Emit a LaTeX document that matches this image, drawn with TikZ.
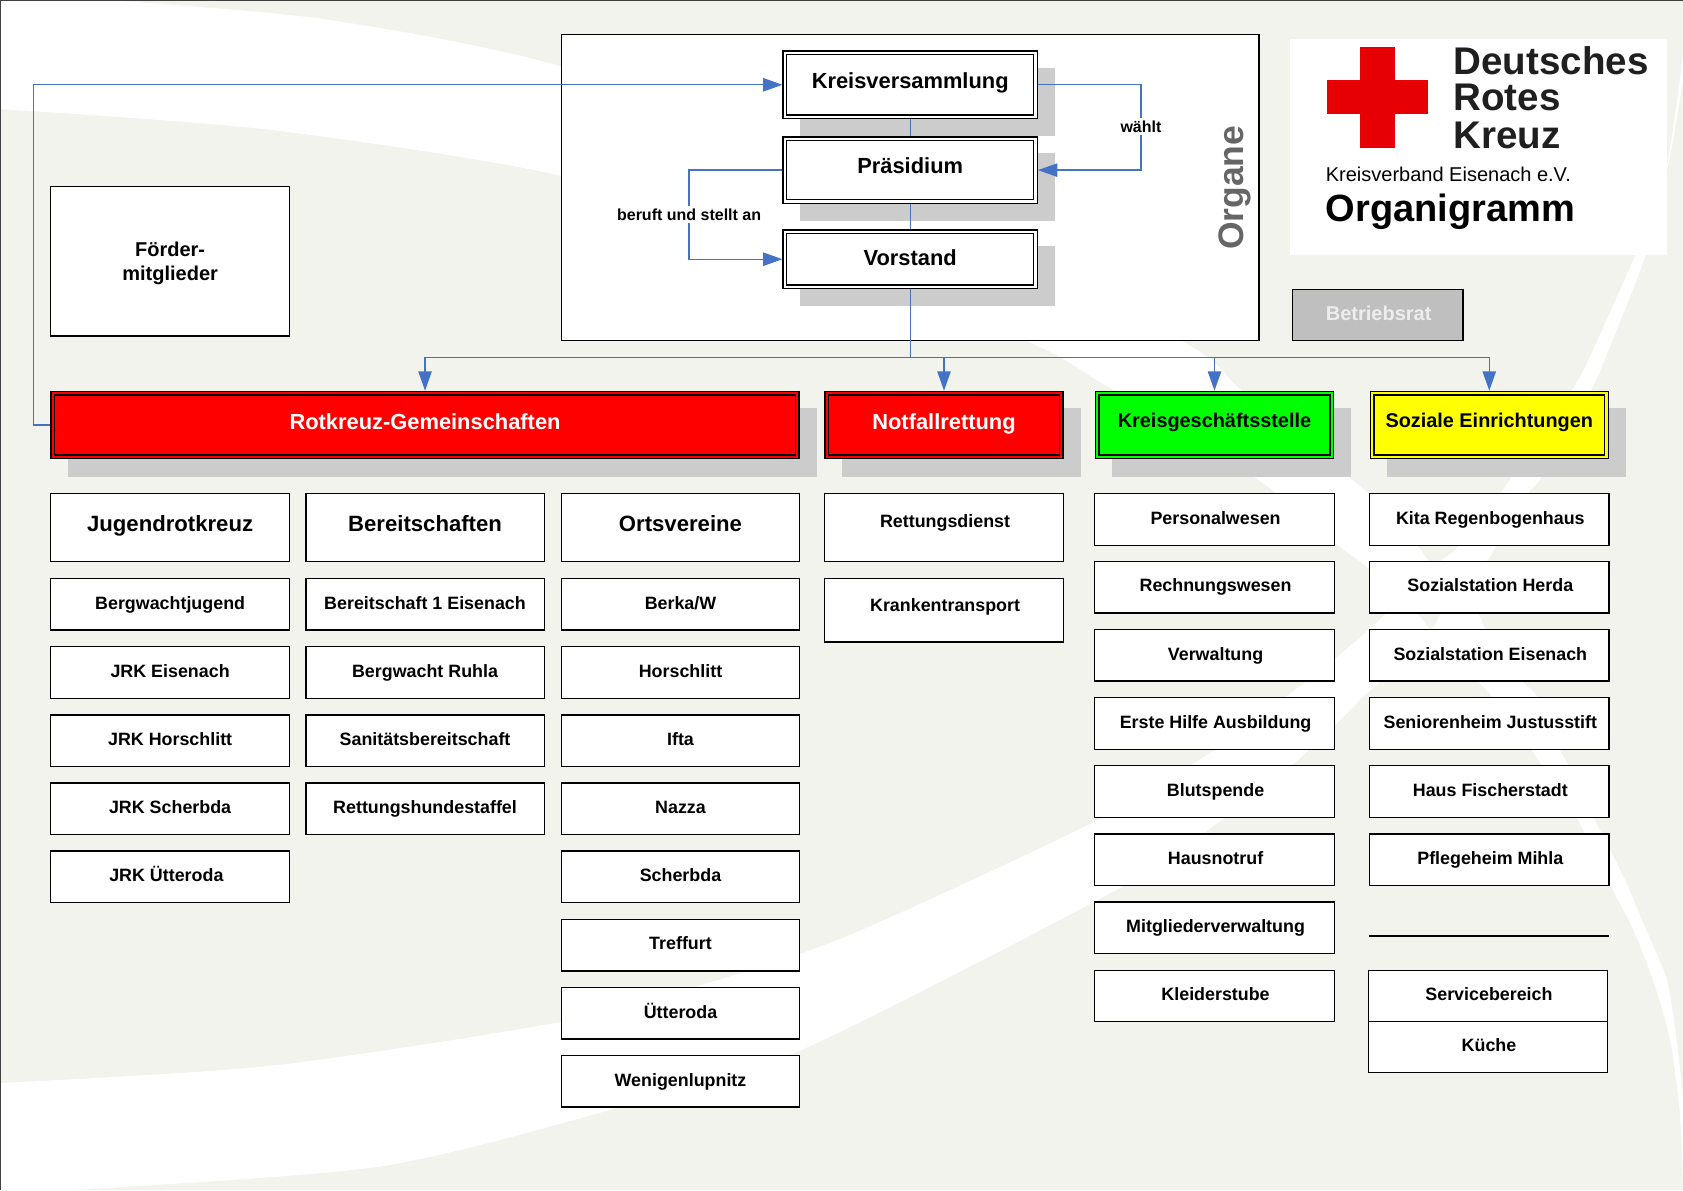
\documentclass[tikz,border=0pt]{standalone}
\usepackage{fontspec}
\setmainfont{Liberation Sans}
\usetikzlibrary{arrows.meta}
\definecolor{bgc}{HTML}{F2F3EC}
\definecolor{blu}{HTML}{4472C4}
\definecolor{shd}{HTML}{CCCCCC}
\definecolor{crs}{HTML}{E60005}
\definecolor{hdgreen}{HTML}{00FF00}
\definecolor{hdyellow}{HTML}{FFFF00}
\definecolor{hdred}{HTML}{FF0000}
\def\uu{0.80493}
\newcommand\fnt[1]{\fontsize{#1}{#1}\selectfont\bfseries}
\newcommand\bx[8]{%
 \pgfmathsetmacro\bw{((#5)-(#3))*\uu}\pgfmathsetmacro\bh{((#6)-(#4))*\uu}\pgfmathsetmacro\br{(((#4)+(#6))/2-(#7))*\uu}%
 \node[#1,minimum width=\bw pt,minimum height=\bh pt] (#2) at ({((#3)+(#5))/2},{((#4)+(#6))/2}) {\raisebox{\br pt}[0pt][0pt]{#8}};}
\newcommand\bxd[8]{%
 \pgfmathsetmacro\bw{((#5)-(#3)-4.6)*\uu}\pgfmathsetmacro\bh{((#6)-(#4)-4.6)*\uu}\pgfmathsetmacro\br{(((#4)+(#6))/2-(#7))*\uu}%
 \node[#1,minimum width=\bw pt,minimum height=\bh pt] (#2) at ({((#3)+(#5))/2},{((#4)+(#6))/2}) {\raisebox{\br pt}[0pt][0pt]{#8}};}
\newcommand\sm[5]{\bx{plainbox,font=\fnt{13.4}}{#1}{#2}{#4}{#3}{(#4)+48}{(#4)+28.5}{#5}}
\newcommand\smr[5]{\bx{plainbox,font=\fnt{13.4}}{#1}{#2}{#4}{#3}{(#4)+48}{(#4)+28.5}{\hspace{1.6pt}#5}}
\newcommand\shadowbox[4]{\fill[shd] (#1+16,#2+16) rectangle (#3+16,#4+16);}
\tikzset{
 x=0.80493pt,y=-0.80493pt,
 plainbox/.style={draw=black,fill=white,line width=1pt,inner sep=0pt,outer sep=0.5pt,text=black},
 dblbox/.style={draw=black,fill=#1,line width=1.05pt,double=#1,double distance=1.6pt,inner sep=0pt,outer sep=1.85pt,text=black},
 conn/.style={draw=blu,line width=1pt},
 arr/.style={conn,-{Triangle[length=14.5pt,width=10pt,fill=blu]}},
 lab/.style={fill=white,inner xsep=0.5pt,inner ysep=2pt,font=\fnt{12},text=black},
 logot/.style={anchor=base west,inner sep=0pt,text=black!88},
}
\begin{document}
\begin{tikzpicture}
\useasboundingbox (0,0) rectangle (1568,1108.7);
% background
\fill[bgc] (0,0) rectangle (1568,1108.7);
\fill[white,even odd rule]
 (0,0) -- plot[smooth,tension=.45] coordinates {(100,0)(303,18)(523,62)(800,165)(1100,317)(1156,363)(1258,445.6)(1276,461)(1320,508)(1331,522)(1376,571)(1384,586)(1419,635)(1432,649)(1453.5,699)(1461,713)(1485,762)(1514,820)(1534,867)(1553,913)(1562,969)(1568,1022)}
 -- (1568,1100) -- plot[smooth,tension=.45] coordinates {(1568,1100)(1565,1037)(1556,969)(1540,913)(1522,867)(1501,826)(1469,762)(1436.5,713)(1427,699)(1390,649)(1377,635)(1332,586)(1320,571)(1275,529.5)(1244,506)(1168,444)(1025,356)(957,318)(750,240)(523,164)(252,121)(0,101.6)} -- cycle
 plot[smooth,tension=.45] coordinates {(0,1009)(252,993)(523,952)(656,917)(792,871)(1023,764)(1128,701)(1201,647)(1244,613.4)(1276,586)(1292,571)(1342,523)(1360,508)(1398,459)(1408.5,444)(1464,364)(1480,335)(1523.5,238)(1549,174)(1563,90)(1568,50)}
 -- plot[smooth,tension=.45] coordinates {(1568,75)(1555,150)(1533,238)(1495,335)(1482,364)(1436.5,444)(1424,459)(1394.5,508)(1385,523)(1343,571)(1334,586)(1286,635)(1270,649)(1244,675.5)(1207,710)(1138,764)(1044,827)(745,979)(576,1032)(353,1087)(66,1108.7)} -- (0,1108.7) -- cycle;
\draw[black!75,line width=1pt] (0,1108.7) -- (0,0) -- (1568,0);
% Organe frame
\bx{plainbox}{org}{523}{32}{1173}{317}{175}{}
\node[anchor=base,rotate=90,inner sep=0pt,font=\fnt{26.6},text=black!60] (orgt) at (1158.5,175) {Organe};
% logo
\node[fill=white,inner sep=0pt,minimum width=282.5pt,minimum height=162.3pt] (logo) at (1377.5,137) {};
\fill[crs] (1267,43.5) rectangle (1299.5,138);
\fill[crs] (1236,75) rectangle (1330.6,106.5);
\node[logot,font=\fnt{28.9}] (l1) at (1354,69) {Deutsches};
\node[logot,font=\fnt{28.9}] (l2) at (1354,103) {Rotes};
\node[logot,font=\fnt{28.9}] (l3) at (1354,138) {Kreuz};
\node[logot,font=\fontsize{15}{15}\selectfont,text=black] (l4) at (1235,169) {Kreisverband Eisenach e.V.};
\node[logot,font=\fnt{28.5},text=black] (l5) at (1235,206.5) {Organigramm};
% Betriebsrat
\bx{plainbox,fill=black!25,text=white!93!black,font=\fnt{15}}{br}{1204}{269.5}{1363}{317.4}{299}{\hspace{1.6pt}Betriebsrat}
% Foerder
\bx{plainbox,font=\fontsize{15}{18}\selectfont\bfseries}{fm}{47}{174}{270}{313}{261.3}{\begin{tabular}[b]{@{}c@{}}Förder-\\mitglieder\end{tabular}}
% shadows
\shadowbox{729}{47}{967}{111}
\shadowbox{729}{127}{967}{190}
\shadowbox{729}{213.5}{967}{269.5}
\shadowbox{47}{364}{745}{428}
\shadowbox{768}{364}{991}{428}
\shadowbox{1020}{364}{1243}{428}
\shadowbox{1276}{364}{1499}{428}
% organs
\bxd{dblbox=white,font=\fnt{16.4}}{kv}{729}{47}{967}{111}{82.3}{Kreisversammlung}
\bxd{dblbox=white,font=\fnt{16.4}}{pr}{729}{127}{967}{190}{161.5}{Präsidium}
\bxd{dblbox=white,font=\fnt{16.4}}{vs}{729}{213.5}{967}{269.5}{247}{Vorstand}
% heads
\bxd{dblbox=hdred,text=white,font=\fnt{16.4}}{rk}{47}{364}{745}{428}{399.7}{Rotkreuz-Gemeinschaften}
\bxd{dblbox=hdred,text=white,font=\fnt{16.4}}{nf}{768}{364}{991}{428}{399.7}{Notfallrettung}
\bxd{dblbox=hdgreen,font=\fnt{14.9}}{kg}{1020}{364}{1243}{428}{398}{Kreisgeschäftsstelle}
\bxd{dblbox=hdyellow,font=\fnt{14.9}}{se}{1276}{364}{1499}{428}{398}{Soziale Einrichtungen}
% sub heads
\bx{plainbox,font=\fnt{16.6}}{h1}{47}{460}{270}{523}{494.8}{Jugendrotkreuz}
\bx{plainbox,font=\fnt{16.6}}{h2}{285}{460}{507}{523}{494.8}{Bereitschaften}
\bx{plainbox,font=\fnt{16.6}}{h3}{523}{460}{745}{523}{494.8}{Ortsvereine}
\bx{plainbox,font=\fnt{13.4}}{h4}{768}{460}{991}{523}{491.5}{\hspace{1.6pt}Rettungsdienst}
\bx{plainbox,font=\fnt{13.4}}{h5}{768}{539}{991}{598}{570}{\hspace{1.6pt}Krankentransport}
% col 1
\sm{a1}{47}{270}{539}{Bergwachtjugend}
\sm{a2}{47}{270}{602.5}{JRK Eisenach}
\sm{a3}{47}{270}{666}{JRK Horschlitt}
\sm{a4}{47}{270}{729.5}{JRK Scherbda}
\sm{a5}{47}{270}{793}{JRK Ütteroda\hspace{5.6pt}}
% col 2
\sm{b1}{285}{507}{539}{Bereitschaft 1 Eisenach}
\sm{b2}{285}{507}{602.5}{Bergwacht Ruhla}
\sm{b3}{285}{507}{666}{Sanitätsbereitschaft}
\sm{b4}{285}{507}{729.5}{Rettungshundestaffel}
% col 3
\sm{c1}{523}{745}{539}{Berka/W}
\sm{c2}{523}{745}{602.5}{Horschlitt}
\sm{c3}{523}{745}{666}{Ifta}
\sm{c4}{523}{745}{729.5}{Nazza}
\sm{c5}{523}{745}{793}{Scherbda}
\sm{c6}{523}{745}{856.5}{Treffurt}
\sm{c7}{523}{745}{920}{Ütteroda}
\sm{c8}{523}{745}{983.5}{Wenigenlupnitz}
% col 5
\smr{d1}{1020}{1243}{460}{Personalwesen}
\smr{d2}{1020}{1243}{523}{Rechnungswesen}
\smr{d3}{1020}{1243}{586.5}{Verwaltung}
\smr{d4}{1020}{1243}{650}{Erste Hilfe Ausbildung}
\smr{d5}{1020}{1243}{713.5}{Blutspende}
\smr{d6}{1020}{1243}{777}{Hausnotruf}
\smr{d7}{1020}{1243}{840.5}{Mitgliederverwaltung}
\smr{d8}{1020}{1243}{904}{Kleiderstube}
% col 6
\smr{e1}{1276}{1499}{460}{Kita Regenbogenhaus}
\smr{e2}{1276}{1499}{523}{Sozialstation Herda}
\smr{e3}{1276}{1499}{586.5}{Sozialstation Eisenach}
\smr{e4}{1276}{1499}{650}{Seniorenheim Justusstift}
\smr{e5}{1276}{1499}{713.5}{Haus Fischerstadt}
\smr{e6}{1276}{1499}{777}{Pflegeheim Mihla}
\coordinate (sl) at (1275,872);
\coordinate (sr) at (1499,872);
\draw[black,line width=1pt] (sl) -- (sr);
\smr{f1}{1275}{1497.5}{904}{Servicebereich}
\smr{f2}{1275}{1497.5}{951.5}{Küche}
% connectors
\coordinate (lft) at (31,396);
\coordinate (wr) at (1063,118);
\coordinate (bf) at (642,200);
\coordinate (bus) at (848,333);
\draw[arr] (rk.west) -- (lft) |- (kv.west);
\draw[arr] (kv.east) -| (wr) |- (pr.east);
\draw[arr] (pr.west) -| (bf) |- (vs.west);
\draw[conn] (kv.south) -- (pr.north);
\draw[conn] (pr.south) -- (vs.north);
\draw[conn] (vs.south) -- (bus);
\draw[arr] (bus) -| (rk.north);
\draw[arr] (bus) -| (nf.north);
\draw[arr] (bus) -| (kg.north);
\draw[arr] (bus) -| (se.north);
\node[lab] (lw) at (wr) {wählt};
\node[lab] (lb) at (bf) {beruft und stellt an};
\end{tikzpicture}
\end{document}
